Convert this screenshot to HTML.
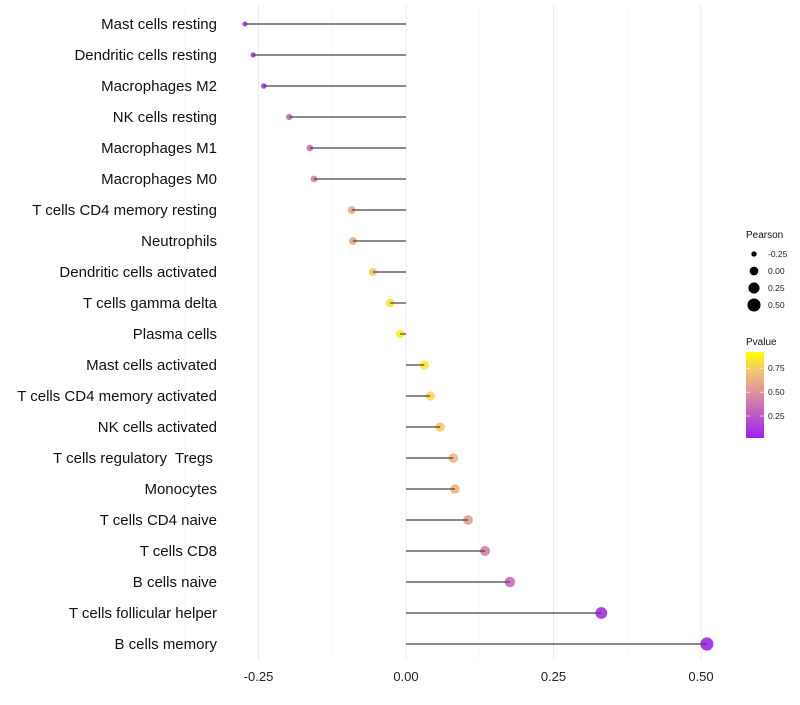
<!DOCTYPE html>
<html><head><meta charset="utf-8"><style>
body{margin:0;background:#fff;font-family:"Liberation Sans",sans-serif}
text{white-space:pre}
</style></head><body>
<svg id="chart" width="800" height="700" xmlns="http://www.w3.org/2000/svg" font-family="Liberation Sans, sans-serif"></svg>
<script>
const categories=["Mast cells resting","Dendritic cells resting","Macrophages M2","NK cells resting","Macrophages M1","Macrophages M0","T cells CD4 memory resting","Neutrophils","Dendritic cells activated","T cells gamma delta","Plasma cells","Mast cells activated","T cells CD4 memory activated","NK cells activated","T cells regulatory  Tregs ","Monocytes","T cells CD4 naive","T cells CD8","B cells naive","T cells follicular helper","B cells memory"];
const pearson=[-0.273,-0.259,-0.241,-0.198,-0.163,-0.156,-0.092,-0.090,-0.056,-0.027,-0.010,0.031,0.041,0.058,0.080,0.083,0.105,0.134,0.176,0.331,0.510];
const pvalue=[0.05,0.08,0.06,0.35,0.40,0.45,0.65,0.65,0.80,0.90,0.95,0.90,0.85,0.80,0.70,0.70,0.60,0.45,0.35,0.05,0.02];
const xTicks=[-0.25,0,0.25,0.5];
const xTickLabels=["-0.25","0.00","0.25","0.50"];
const sizeLegend=[-0.25,0,0.25,0.5];
const sizeLegendLabels=["-0.25","0.00","0.25","0.50"];
const colorLegend=[0.25,0.5,0.75];
const colorLegendLabels=["0.25","0.50","0.75"];

const NS="http://www.w3.org/2000/svg";
const svg=document.getElementById('chart');
function el(t,a,p){const e=document.createElementNS(NS,t);for(const k in a)e.setAttribute(k,a[k]);(p||svg).appendChild(e);return e;}
const xS=v=>406+v*590;
const yS=i=>24+i*31;
const rS=v=>Math.sqrt(Math.max(2.5,19+47.5*v));
const stops=[[0,[160,32,240]],[0.5,[218,140,160]],[0.75,[240,190,120]],[1,[255,255,0]]];
function col(p){for(let i=0;i<stops.length-1;i++){const [a,ca]=stops[i],[b,cb]=stops[i+1];if(p<=b){const t=(p-a)/(b-a);return 'rgb('+ca.map((c,j)=>Math.round(c+(cb[j]-c)*t)).join(',')+')';}}return 'rgb(255,255,0)';}

xTicks.forEach((v,i)=>{
 const g=el('line',{x1:xS(v),x2:xS(v),y1:5,y2:660,stroke:'#ebebeb','stroke-width':1});
 
 if(i<xTicks.length-1){const m=el('line',{x1:xS(v+0.125),x2:xS(v+0.125),y1:5,y2:660,stroke:'#f5f5f5','stroke-width':0.6});
 }
 const t=el('text',{x:xS(v),y:681,'text-anchor':'middle','font-size':13,fill:'#222'});t.textContent=xTickLabels[i];
 
});
const m0=el('line',{x1:xS(-0.375),x2:xS(-0.375),y1:5,y2:660,stroke:'#f5f5f5','stroke-width':0.6});


categories.forEach((c,i)=>{
 const y=yS(i);
 const t=el('text',{x:217,y:y+5,'text-anchor':'end','font-size':15,fill:'#111'});t.textContent=c;
 
 const d=el('circle',{cx:xS(pearson[i]),cy:y,r:rS(pearson[i]),fill:col(pvalue[i]),'fill-opacity':0.9});
 
 const l=el('line',{x1:xS(0),x2:xS(pearson[i]),y1:y,y2:y,stroke:'#444','stroke-width':1.2});
 
});

let t=el('text',{x:746,y:238,'font-size':10,fill:'#111'});t.textContent='Pearson';

sizeLegend.forEach((v,i)=>{
 const y=254+i*17;
 const c=el('circle',{cx:754,cy:y,r:rS(v),fill:'#000'});
 
 const tx=el('text',{x:768,y:y+3,'font-size':8.5,fill:'#222'});tx.textContent=sizeLegendLabels[i];
 
});
t=el('text',{x:746,y:345,'font-size':10,fill:'#111'});t.textContent='Pvalue';

const defs=el('defs',{});
const lg=el('linearGradient',{id:'pg',x1:0,y1:1,x2:0,y2:0},defs);
stops.forEach(s=>el('stop',{offset:s[0],'stop-color':'rgb('+s[1].join(',')+')'},lg));
const barTop=352,barBot=438;
const pY=p=>barBot-(p-0.02)/(0.92-0.02)*(barBot-barTop);
const bar=el('rect',{x:746,y:barTop,width:18,height:barBot-barTop,fill:'url(#pg)'});

colorLegend.forEach((v,i)=>{
 const y=pY(v);
 el('line',{x1:746,x2:750,y1:y,y2:y,stroke:'#fff','stroke-width':0.6});
 el('line',{x1:760,x2:764,y1:y,y2:y,stroke:'#fff','stroke-width':0.6});
 const tx=el('text',{x:768,y:y+3,'font-size':8.5,fill:'#222'});tx.textContent=colorLegendLabels[i];
 
});
</script>
</body></html>
